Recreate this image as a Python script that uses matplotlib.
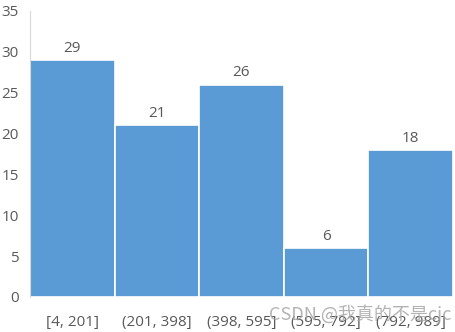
import matplotlib.pyplot as plt

bins = ["[4, 201]", "(201, 398]", "(398, 595]", "(595, 792]", "(792, 989]"]
counts = [29, 21, 26, 6, 18]
yticks = [0, 5, 10, 15, 20, 25, 30, 35]

plt.rcParams["font.family"] = ["Open Sans", "DejaVu Sans"]

fig = plt.figure(figsize=(4.56, 3.32), dpi=100)
ax = fig.add_axes([30 / 456, 35 / 332, 423 / 456, 286 / 332])

x = range(len(counts))
bars = ax.bar(x, counts, width=1.0, color="#5b9bd5", edgecolor="white", linewidth=1.2)
for xi, c in zip(x, counts):
    ax.text(xi, c + 0.5, str(c), ha="center", va="bottom", fontsize=11, color="#595959")

ax.set_xlim(-0.5, len(counts) - 0.5)
ax.set_ylim(0, 35)
ax.set_yticks(yticks)
ax.set_xticks(list(x))
ax.set_xticklabels(bins)
ax.tick_params(axis="both", length=0, colors="#595959", labelsize=11)
ax.tick_params(axis="y", pad=8)
ax.tick_params(axis="x", pad=13)

for side in ["top", "right", "bottom"]:
    ax.spines[side].set_visible(False)
ax.spines["left"].set_color("#d9d9d9")

# CSDN watermark over the lower right corner
fig.text(0.99, 0.025, "CSDN @我真的不是cjc", ha="right", va="bottom", fontsize=13,
         color="#a6a6a6", alpha=0.85, family=["Noto Sans CJK SC", "DejaVu Sans"])

fig.savefig("out.png", dpi=100)
